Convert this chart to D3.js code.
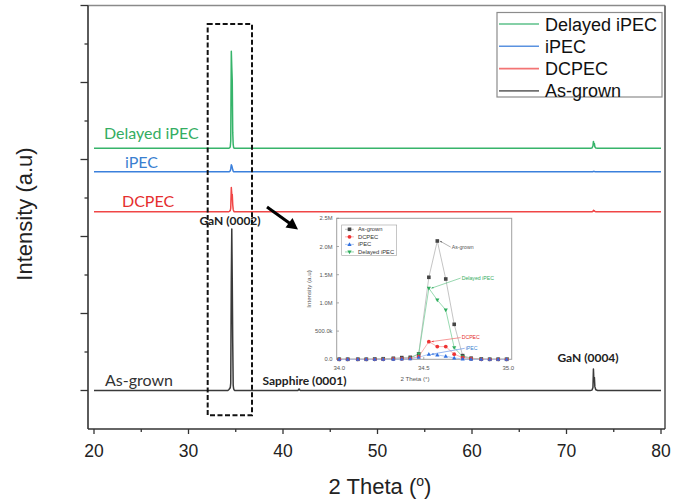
<!DOCTYPE html>
<html><head><meta charset="utf-8">
<script src="https://cdn.jsdelivr.net/npm/d3@7"></script>
<style>body{margin:0;background:#fff}svg{display:block}</style>
</head><body><div id="chart"></div>
<script>
// ---------- DATA ----------
const seriesNames   = ["As-grown", "DCPEC", "iPEC", "Delayed iPEC"];
const seriesOffsets = [0, 2.322, 2.842, 3.145];               // stacking offset (M counts)
const legendOrder   = ["Delayed iPEC", "iPEC", "DCPEC", "As-grown"];

// GaN (0002) region (also shown in the inset), intensity in millions
const peakTheta    = [34.00,34.05,34.11,34.16,34.21,34.26,34.32,34.37,34.42,34.47,34.53,34.58,34.63,34.68,34.73,34.78,34.84,34.89,34.94,34.99];
const asGrownPeak  = [0,0,0,0,0.005,0.01,0.018,0.03,0.035,0.095,1.454,2.098,1.424,0.62,0.065,0.02,0.006,0,0,0];
const dcpecPeak    = [0,0,0,0,0,0,0.005,0.01,0.015,0.047,0.313,0.225,0.225,0.09,0.03,0.01,0,0,0,0];
const ipecPeak     = [0,0,0,0,0,0,0,0.005,0.01,0.035,0.089,0.077,0.053,0.024,0.006,0,0,0,0,0];
const delayedPeak  = [0,0,0,0,0,0,0.005,0.01,0.02,0.095,1.26,1.05,0.875,0.207,0.047,0.01,0,0,0,0];

// Sapphire (0001) region
const sapphireTheta    = [41.55,41.65,41.7,41.75,41.85];
const asGrownSapphire  = [0,0.008,0.02,0.008,0];
const dcpecSapphire    = [0,0,0,0,0];
const ipecSapphire     = [0,0,0,0,0];
const delayedSapphire  = [0,0,0,0,0];

// GaN (0004) region
const gan4Theta    = [72.5,72.7,72.8,72.85,72.9,72.95,73.0,73.1,73.3];
const asGrownGan4  = [0,0.005,0.04,0.28,0.12,0.17,0.05,0.01,0];
const dcpecGan4    = [0,0,0.005,0.02,0.01,0.012,0.004,0,0];
const ipecGan4     = [0,0,0,0.004,0.002,0.003,0,0,0];
const delayedGan4  = [0,0.005,0.03,0.09,0.05,0.06,0.02,0.005,0];

const thetaRange = [20, 80];
const xTicks = [20,30,40,50,60,70,80];
const insetYTicks = [0,0.5,1.0,1.5,2.0,2.5];
const insetYTickLabels = ["0.0","500.0k","1.0M","1.5M","2.0M","2.5M"];
const insetXTicks = [34.0,34.5,35.0];
const insetXTickLabels = ["34.0","34.5","35.0"];

// ---------- STYLE ----------
const colors = {"As-grown":"#3a3a3a","DCPEC":"#f04646","iPEC":"#3b80dc","Delayed iPEC":"#36b46a"};
const legendColors = {"As-grown":"#707070","DCPEC":"#f37474","iPEC":"#5a92e0","Delayed iPEC":"#5cc08a"};
const labelColors = {"As-grown":"#333","DCPEC":"#e52e2e","iPEC":"#3a7fd0","Delayed iPEC":"#34ad62"};
const insetMarkerColors = {"As-grown":"#454545","DCPEC":"#ee3333","iPEC":"#2f6fe0","Delayed iPEC":"#2fae5e"};
const insetLineColors = {"As-grown":"#b5b5b5","DCPEC":"#f7a0a0","iPEC":"#9dbcf0","Delayed iPEC":"#7fd09e"};

const peakVals = {"As-grown":asGrownPeak,"DCPEC":dcpecPeak,"iPEC":ipecPeak,"Delayed iPEC":delayedPeak};
const sapVals  = {"As-grown":asGrownSapphire,"DCPEC":dcpecSapphire,"iPEC":ipecSapphire,"Delayed iPEC":delayedSapphire};
const g4Vals   = {"As-grown":asGrownGan4,"DCPEC":dcpecGan4,"iPEC":ipecGan4,"Delayed iPEC":delayedGan4};

const W = 684, H = 499;
const svg = d3.select("#chart").append("svg").attr("width",W).attr("height",H);

const x = d3.scaleLinear().domain([19.365, 80.423]).range([88, 665]);
const y = d3.scaleLinear().domain([-0.5, 5]).range([429, 5.5]);

// frame (top/right)
svg.append("line").attr("x1",88).attr("x2",665).attr("y1",5.5).attr("y2",5.5).attr("stroke","#8a8a8a").attr("stroke-width",1.5);
svg.append("line").attr("x1",665).attr("x2",665).attr("y1",5.5).attr("y2",429).attr("stroke","#6a6a6a").attr("stroke-width",1.8);

// y axis (no labels)
const yTicks = d3.range(0, 5.01, 0.5);
const yAxisG = svg.append("g");
yAxisG.append("line").attr("x1",88).attr("x2",88).attr("y1",5.5).attr("y2",429).attr("stroke","#333").attr("stroke-width",1.6);
yAxisG.selectAll("line.t").data(yTicks).join("line").attr("class","t")
  .attr("x1",d=> Math.abs(d%1)<1e-6 ? 80.5 : 84.5).attr("x2",88)
  .attr("y1",d=>y(d)).attr("y2",d=>y(d)).attr("stroke","#333").attr("stroke-width",1.3);

// x axis
const xAxisG = svg.append("g");
xAxisG.append("line").attr("x1",88).attr("x2",665).attr("y1",429).attr("y2",429).attr("stroke","#333").attr("stroke-width",1.6);
xAxisG.selectAll("line.t").data(d3.range(20,80.1,5)).join("line").attr("class","t")
  .attr("x1",d=>x(d)).attr("x2",d=>x(d)).attr("y1",429).attr("y2",d=> d%10===0 ? 434 : 432)
  .attr("stroke","#333").attr("stroke-width",1.3);
xAxisG.selectAll("text").data(xTicks).join("text")
  .attr("x",d=>x(d)).attr("y",456.5).attr("text-anchor","middle")
  .attr("font-family","Liberation Sans, Arial, sans-serif").attr("font-size",17.5).attr("fill","#222").text(d=>d);

// axis titles
svg.append("text").attr("transform","translate(32,214) rotate(-90)").attr("text-anchor","middle")
  .attr("font-family","Liberation Sans, Arial, sans-serif").attr("font-size",22).attr("fill","#222").text("Intensity (a.u)");
const xt = svg.append("text").attr("x",380).attr("y",494).attr("text-anchor","middle")
  .attr("font-family","Liberation Sans, Arial, sans-serif").attr("font-size",22).attr("fill","#222");
xt.append("tspan").text("2 Theta (");
xt.append("tspan").attr("font-size",14).attr("dy",-8).text("o");
xt.append("tspan").attr("dy",8).text(")");

// series curves
function seriesPoints(name){
  const pts = [[thetaRange[0],0]];
  peakTheta.forEach((t,i)=>pts.push([t,peakVals[name][i]]));
  sapphireTheta.forEach((t,i)=>pts.push([t,sapVals[name][i]]));
  gan4Theta.forEach((t,i)=>pts.push([t,g4Vals[name][i]]));
  pts.push([thetaRange[1],0]);
  return pts;
}
const line = d3.line().x(d=>x(d[0])).y(d=>y(d[1]));
const drawOrder = ["As-grown","DCPEC","iPEC","Delayed iPEC"];
drawOrder.forEach(name=>{
  const off = seriesOffsets[seriesNames.indexOf(name)];
  svg.append("path").datum(seriesPoints(name).map(p=>[p[0],p[1]+off]))
    .attr("d",line).attr("fill","none").attr("stroke",colors[name]).attr("stroke-width",1.5)
    .attr("stroke-linejoin","round");
});

// dashed box around GaN(0002)
svg.append("rect").attr("x",x(32.03)).attr("y",y(4.76)).attr("width",x(36.72)-x(32.03)).attr("height",y(-0.32)-y(4.76))
  .attr("fill","none").attr("stroke","#111").attr("stroke-width",2).attr("stroke-dasharray","5,2.5");

// series labels
const lblFont = "Lato, 'Open Sans', sans-serif";
const seriesLabels = [
  {name:"Delayed iPEC", x:104, y:139.3},
  {name:"iPEC", x:125, y:167.7},
  {name:"DCPEC", x:122, y:207.3},
  {name:"As-grown", x:105, y:385.5}
];
svg.selectAll("text.sl").data(seriesLabels).join("text").attr("class","sl")
  .attr("x",d=>d.x).attr("y",d=>d.y).attr("font-family",lblFont).attr("font-size",16)
  .attr("fill",d=>labelColors[d.name]).text(d=>d.name);

// peak labels
const peakLabels = [{t:"GaN (0002)",x:230,y:224.5},{t:"Sapphire (0001)",x:304.5,y:384.5},{t:"GaN (0004)",x:588,y:362}];
svg.selectAll("text.pl").data(peakLabels).join("text").attr("class","pl")
  .attr("x",d=>d.x).attr("y",d=>d.y).attr("text-anchor","middle").attr("font-family",lblFont)
  .attr("font-weight","bold").attr("font-size",12).attr("fill","#222").text(d=>d.t);

// arrow to inset
svg.append("line").attr("x1",267).attr("y1",207).attr("x2",290).attr("y2",223.5).attr("stroke","#000").attr("stroke-width",3);
svg.append("path").attr("d","M298,229.5 L285.5,227.5 L292.5,218 Z").attr("fill","#000");

// legend
const lg = svg.append("g");
lg.append("rect").attr("x",497).attr("y",12.5).attr("width",165).attr("height",84.5).attr("fill","#fff").attr("stroke","#8c8c8c").attr("stroke-width",1.2);
legendOrder.forEach((name,i)=>{
  const cy = 24 + i*22.3;
  lg.append("line").attr("x1",499).attr("x2",539).attr("y1",cy).attr("y2",cy).attr("stroke",legendColors[name]).attr("stroke-width",1.6);
  lg.append("text").attr("x",545).attr("y",cy+6.5).attr("font-family","Liberation Sans, Arial, sans-serif")
    .attr("font-size",18).attr("fill","#111").text(name);
});

// ---------- INSET ----------
const ix = d3.scaleLinear().domain([33.985, 35.02]).range([336.7, 511.7]);
const iy = d3.scaleLinear().domain([0, 2.5]).range([359.3, 218.3]);
const ins = svg.append("g");
ins.append("rect").attr("x",336.7).attr("y",218.3).attr("width",175).attr("height",141).attr("fill","#fff").attr("stroke","#a0a0a0").attr("stroke-width",1);
const tf = "Liberation Sans, Arial, sans-serif";
ins.selectAll("line.yt").data(insetYTicks).join("line").attr("class","yt")
  .attr("x1",336.7).attr("x2",339).attr("y1",d=>iy(d)).attr("y2",d=>iy(d)).attr("stroke","#888").attr("stroke-width",0.7);
ins.selectAll("text.yt").data(insetYTicks).join("text").attr("class","yt")
  .attr("x",332.5).attr("y",d=>iy(d)+2).attr("text-anchor","end").attr("font-family",tf).attr("font-size",5.8).attr("fill","#555")
  .text((d,i)=>insetYTickLabels[i]);
ins.selectAll("line.xt").data(insetXTicks).join("line").attr("class","xt")
  .attr("x1",d=>ix(d)).attr("x2",d=>ix(d)).attr("y1",359.3).attr("y2",357).attr("stroke","#888").attr("stroke-width",0.7);
ins.selectAll("text.xt").data(insetXTicks).join("text").attr("class","xt")
  .attr("x",d=>ix(d)).attr("y",370).attr("text-anchor","middle").attr("font-family",tf).attr("font-size",6).attr("fill","#555")
  .text((d,i)=>insetXTickLabels[i]);
ins.append("text").attr("x",415).attr("y",380.5).attr("text-anchor","middle").attr("font-family",tf).attr("font-size",6.2).attr("fill","#555").text("2 Theta (°)");
ins.append("text").attr("transform","translate(310.5,289) rotate(-90)").attr("text-anchor","middle").attr("font-family",tf).attr("font-size",6.2).attr("fill","#555").text("Intensity (a.u)");

const iline = d3.line().x(d=>ix(d[0])).y(d=>iy(d[1]));
function marker(g, name, cx, cy){
  const c = insetMarkerColors[name];
  if(name==="As-grown") g.append("rect").attr("x",cx-1.8).attr("y",cy-1.8).attr("width",3.6).attr("height",3.6).attr("fill",c);
  else if(name==="DCPEC") g.append("circle").attr("cx",cx).attr("cy",cy).attr("r",1.9).attr("fill",c);
  else if(name==="iPEC") g.append("path").attr("d",`M${cx},${cy-2.2} L${cx+2.1},${cy+1.5} L${cx-2.1},${cy+1.5} Z`).attr("fill",c);
  else g.append("path").attr("d",`M${cx},${cy+2.2} L${cx+2.1},${cy-1.5} L${cx-2.1},${cy-1.5} Z`).attr("fill",c);
}
["As-grown","Delayed iPEC","DCPEC","iPEC"].forEach(name=>{
  const pts = peakTheta.map((t,i)=>[t,peakVals[name][i]]);
  ins.append("path").datum(pts).attr("d",iline).attr("fill","none").attr("stroke",insetLineColors[name]).attr("stroke-width",0.8);
});
["As-grown","Delayed iPEC","DCPEC","iPEC"].forEach(name=>{
  peakTheta.forEach((t,i)=>marker(ins,name,ix(t),iy(peakVals[name][i])));
});

// inset legend
const ilg = ins.append("g");
ilg.append("rect").attr("x",341.7).attr("y",225).attr("width",55).attr("height",30.7).attr("fill","#fff").attr("stroke","#a0a0a0").attr("stroke-width",0.6);
seriesNames.forEach((name,i)=>{
  const cy = 229.3 + i*7.55;
  ilg.append("line").attr("x1",345).attr("x2",354).attr("y1",cy).attr("y2",cy).attr("stroke",insetLineColors[name]).attr("stroke-width",0.8);
  marker(ilg,name,349.5,cy);
  ilg.append("text").attr("x",358).attr("y",cy+2).attr("font-family",tf).attr("font-size",5.8).attr("fill","#333").text(name);
});

// inset annotations (label position in data units, target = data point)
const annots = [
  {name:"As-grown", lt:34.665, lv:1.99, pi:11, dx:2.5, dy:0},
  {name:"Delayed iPEC", lt:34.724, lv:1.44, pi:10, dx:2.5, dy:0},
  {name:"DCPEC", lt:34.724, lv:0.385, pi:10, dx:2.5, dy:0},
  {name:"iPEC", lt:34.748, lv:0.195, pi:10, dx:2.5, dy:0}
];
annots.forEach(a=>{
  const lx = ix(a.lt), ly = iy(a.lv);
  const tx = ix(peakTheta[a.pi]) + a.dx, ty = iy(peakVals[a.name][a.pi]) + a.dy;
  const col = a.name==="As-grown" ? "#666" : insetMarkerColors[a.name];
  ins.append("line").attr("x1",lx-1).attr("y1",ly).attr("x2",tx).attr("y2",ty).attr("stroke",col).attr("stroke-width",0.5);
  const ang = Math.atan2(ly-ty, lx-1-tx);
  const hl=2.2, hw=0.9;
  const bx = tx + hl*Math.cos(ang), by = ty + hl*Math.sin(ang);
  ins.append("path").attr("d",`M${tx},${ty} L${bx - hw*Math.sin(ang)},${by + hw*Math.cos(ang)} L${bx + hw*Math.sin(ang)},${by - hw*Math.cos(ang)} Z`).attr("fill",col);
  ins.append("text").attr("x",lx).attr("y",ly+1.8).attr("font-family",tf).attr("font-size",5.2).attr("fill",a.name==="As-grown"?"#555":labelColors[a.name]).text(a.name);
});
</script></body></html>
